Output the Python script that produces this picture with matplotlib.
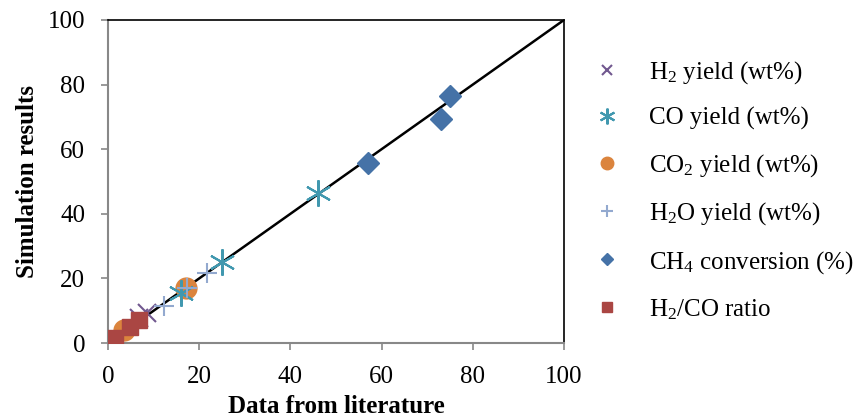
import matplotlib
matplotlib.use("Agg")
import matplotlib.pyplot as plt

plt.rcParams["font.family"] = ["Liberation Serif", "DejaVu Serif"]
plt.rcParams["mathtext.fontset"] = "custom"
plt.rcParams["mathtext.rm"] = "Liberation Serif"
plt.rcParams["mathtext.it"] = "Liberation Serif:italic"
plt.rcParams["mathtext.bf"] = "Liberation Serif:bold"

# datos (literatura, simulacion)
h2_x = [6.8, 8.6]
h2_y = [7.6, 9.2]
co_x = [16.0, 25.0, 46.0]
co_y = [15.5, 25.2, 46.3]
co2_x = [3.5, 17.2]
co2_y = [4.0, 17.0]
h2o_x = [12.3, 17.4, 21.7]
h2o_y = [11.6, 17.0, 21.7]
ch4_x = [57.0, 73.0, 75.0]
ch4_y = [55.8, 69.5, 76.6]
ratio_x = [1.5, 4.8, 6.7]
ratio_y = [1.5, 5.0, 7.1]
line_x = [0, 100]
line_y = [0, 100]

fig = plt.figure(figsize=(8.67, 4.18), dpi=100)
ax = fig.add_axes([0.1246, 0.1794, 0.5259, 0.7728])

ax.plot(line_x, line_y, color="black", lw=1.8, zorder=1)

ax.plot(h2_x, h2_y, ls="none", marker="x", ms=13, mew=1.5, color="#71588F",
        label="H$_2$ yield (wt%)", zorder=3)
ax.plot(co_x, co_y, ls="none", marker=(6, 2, 0), ms=19, mew=1.5, color="#4198AF",
        label="CO yield (wt%)", zorder=3)
ax.plot(co2_x, co2_y, ls="none", marker="o", ms=15, color="#DB843D",
        label="CO$_2$ yield (wt%)", zorder=2)
ax.plot(h2o_x, h2o_y, ls="none", marker="+", ms=15, mew=1.5, color="#93A9CF",
        label="H$_2$O yield (wt%)", zorder=4)
ax.plot(ch4_x, ch4_y, ls="none", marker="D", ms=11, color="#4572A7",
        label="CH$_4$ conversion (%)", zorder=3)
ax.plot(ratio_x, ratio_y, ls="none", marker="s", ms=12, color="#AA4643",
        label="H$_2$/CO ratio", zorder=5)

ax.set_xlim(0, 100)
ax.set_ylim(0, 100)
ax.set_xticks(range(0, 101, 20))
ax.set_yticks(range(0, 101, 20))
ax.tick_params(direction="out", length=5, width=1.2, color="#888888",
               labelsize=18, pad=11.5)
for s in ["left", "bottom"]:
    ax.spines[s].set_color("#888888")
    ax.spines[s].set_linewidth(1.5)
for s in ["top", "right"]:
    ax.spines[s].set_color("black")
    ax.spines[s].set_linewidth(1.2)

ax.set_xlabel("Data from literature", fontsize=18, fontweight="bold", labelpad=5)
ax.set_ylabel("Simulation results", fontsize=18, fontweight="bold", labelpad=6)

ax.legend(loc="upper left", bbox_to_anchor=(1.044, 0.91), frameon=False,
          fontsize=18, markerscale=0.6, handlelength=1.0, handletextpad=1.2,
          labelspacing=0.86, borderaxespad=0)

fig.savefig("out.png", dpi=100)
